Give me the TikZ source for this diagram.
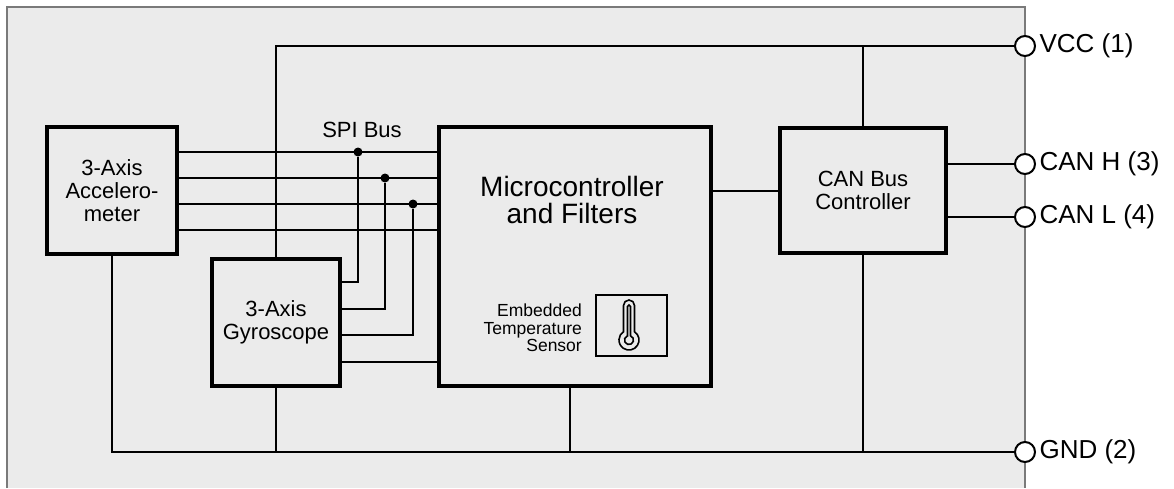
\documentclass[tikz,border=0pt]{standalone}
\usepackage{fontspec}
\setmainfont{Liberation Sans}
\definecolor{panel}{HTML}{EBEBEB}
\definecolor{frame}{HTML}{7A7A7A}
\tikzset{
    block/.style = {draw, line width = 4.5pt, align = center, inner sep = 0pt,
        font = \fontsize{22}{23}\selectfont},
    wire/.style = {line width = 2pt},
    pin/.style = {circle, draw, fill = white, line width = 2pt, inner sep = 0pt,
        minimum size = 20pt, label distance = 3pt},
    pinlabel/.style = {font = \fontsize{26}{26}\selectfont},
    junction/.style = {circle, fill, inner sep = 0pt, minimum size = 9pt}
}

\begin{document}
\begin{tikzpicture}[x = 1pt, y = -1pt]
    \useasboundingbox (0, 0) rectangle (1174, 488);
    \fill[panel] (7, 7) rectangle (1025, 488);
    \draw[frame, line width = 1.5pt] (7, 488) -- (7, 7) -- (1025, 7) -- (1025, 488);

    % blocks
    \node[block, minimum width = 130pt, minimum height = 127pt] (acc) at (112, 190.5) {3-Axis\\Accelero-\\meter};
    \node[block, minimum width = 128pt, minimum height = 127pt] (gyro) at (276, 322.5) {3-Axis\\Gyroscope};
    \node[block, minimum width = 272pt, minimum height = 259pt] (micro) at (575, 256.5) {};
    \node[block, minimum width = 166pt, minimum height = 125pt] (can) at (863, 190.5) {CAN Bus\\Controller};
    \node[align = center, font = \fontsize{28}{27}\selectfont] (mtext) at (572, 200) {Microcontroller\\and Filters};
    \node[font = \fontsize{22}{23}\selectfont] (spi) at (362, 130) {SPI Bus};

    % temperature sensor
    \node[draw, line width = 2pt, minimum width = 71pt, minimum height = 61pt] (tbox) at (631.5, 325.5) {};
    \node[anchor = east, align = right, inner sep = 0pt,
        font = \fontsize{17.5}{17.5}\selectfont] (tlabel) at (582, 328) {Embedded\\Temperature\\Sensor};
    \begin{scope}[shift = {(629, 340)}, x = 1pt, y = 1pt, line width = 1.6pt]
        \draw (-5.5, 8.35) -- (-5.5, 34.5) arc[start angle = 180, end angle = 0, radius = 5.5]
            -- (5.5, 8.35) arc[start angle = 56.6, end angle = -236.6, radius = 10] -- cycle;
        \draw (-1.5, 4.2) -- (-1.5, 33.5) arc[start angle = 180, end angle = 0, radius = 1.5]
            -- (1.5, 4.2) arc[start angle = 70.5, end angle = -250.5, radius = 4.5] -- cycle;
    \end{scope}

    % pins
    \node[pin, label = {[pinlabel]right:VCC (1)}] (vcc) at (1025, 46) {};
    \node[pin, label = {[pinlabel]right:CAN H (3)}] (canh) at (1025, 164) {};
    \node[pin, label = {[pinlabel]right:CAN L (4)}] (canl) at (1025, 217) {};
    \node[pin, label = {[pinlabel]right:GND (2)}] (gnd) at (1025, 452) {};

    % SPI bus
    \node[junction] (j1) at (358, 152) {};
    \node[junction] (j2) at (385, 178) {};
    \node[junction] (j3) at (413, 204) {};
    \coordinate (s4) at (0, 230);
    \coordinate (g1) at (0, 282);
    \coordinate (g2) at (0, 309);
    \coordinate (g3) at (0, 335);
    \coordinate (g4) at (0, 362);

    \draw[wire] (acc.east |- j1) -- (micro.west |- j1);
    \draw[wire] (acc.east |- j2) -- (micro.west |- j2);
    \draw[wire] (acc.east |- j3) -- (micro.west |- j3);
    \draw[wire] (acc.east |- s4) -- (micro.west |- s4);
    \draw[wire] (gyro.east |- g1) -| (j1);
    \draw[wire] (gyro.east |- g2) -| (j2);
    \draw[wire] (gyro.east |- g3) -| (j3);
    \draw[wire] (gyro.east |- g4) -- (micro.west |- g4);

    % supply
    \coordinate (mgnd) at ([xshift = -5pt]micro.south);
    \draw[wire] (gyro.north) |- (vcc);
    \draw[wire] (can.north) -- (can.north |- vcc);
    \draw[wire] (acc.south) |- (gnd);
    \draw[wire] (gyro.south) -- (gyro.south |- gnd);
    \draw[wire] (mgnd) -- (mgnd |- gnd);
    \draw[wire] (can.south) -- (can.south |- gnd);

    % CAN side
    \draw[wire] (micro.east |- can.west) -- (can.west);
    \draw[wire] (can.east |- canh) -- (canh);
    \draw[wire] (can.east |- canl) -- (canl);
\end{tikzpicture}
\end{document}
